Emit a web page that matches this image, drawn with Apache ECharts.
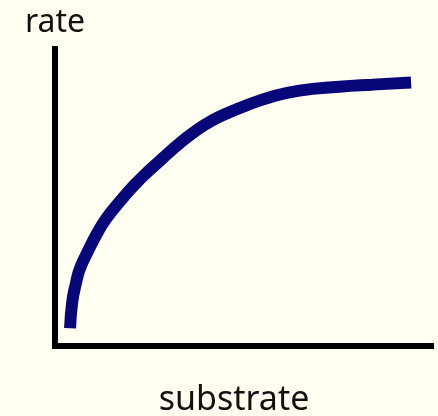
<!DOCTYPE html>
<html>
<head>
<meta charset="utf-8">
<script src="https://cdn.jsdelivr.net/npm/echarts@6/dist/echarts.min.js"></script>
<style>
  html, body { margin: 0; padding: 0; background: #FFFFF2; }
  #chart { width: 438px; height: 416px; }
</style>
</head>
<body>
<div id="chart"></div>
<script>
// substrate concentration (arbitrary units) and reaction rate
var substrate = [4.0, 4.6, 5.6, 6.6, 8.8, 11.1, 13.5, 17.5, 21.2, 24.7, 28.7, 33.2, 37.7, 41.9, 46.4, 50.9, 57.0, 65.0, 75.6, 84.4, 94.7];
var rate = [6.0, 15.0, 21.3, 26.0, 32.0, 37.7, 42.7, 49.0, 54.3, 58.7, 63.3, 68.3, 72.7, 76.0, 78.7, 81.0, 83.7, 86.0, 87.3, 88.0, 88.7];

var xName = 'substrate';
var yName = 'rate';

var points = substrate.map(function (s, i) { return [s, rate[i]]; });

var chart = echarts.init(document.getElementById('chart'));
chart.setOption({
  backgroundColor: '#FFFFF2',
  animation: false,
  grid: { left: 55, right: 7, top: 49, bottom: 70, outerBoundsMode: 'none', containLabel: false },
  xAxis: {
    type: 'value',
    min: 0,
    max: 100,
    name: xName,
    nameLocation: 'middle',
    nameGap: 37,
    nameTextStyle: { fontFamily: 'Noto Sans', fontSize: 34, color: '#111', padding: [0, 18, 0, 0] },
    axisLine: { lineStyle: { color: '#000', width: 6, cap: 'square' } },
    axisTick: { show: false },
    axisLabel: { show: false },
    splitLine: { show: false }
  },
  yAxis: {
    type: 'value',
    min: 0,
    max: 100,
    name: yName,
    nameLocation: 'end',
    nameGap: 10,
    nameTextStyle: { fontFamily: 'Noto Sans', fontSize: 32, color: '#111', align: 'center' },
    axisLine: { show: true, lineStyle: { color: '#000', width: 6, cap: 'square' } },
    axisTick: { show: false },
    axisLabel: { show: false },
    splitLine: { show: false }
  },
  series: [{
    type: 'line',
    data: points,
    smooth: 0.5,
    showSymbol: false,
    lineStyle: { color: '#07077a', width: 12, cap: 'butt' }
  }]
});
</script>
</body>
</html>
